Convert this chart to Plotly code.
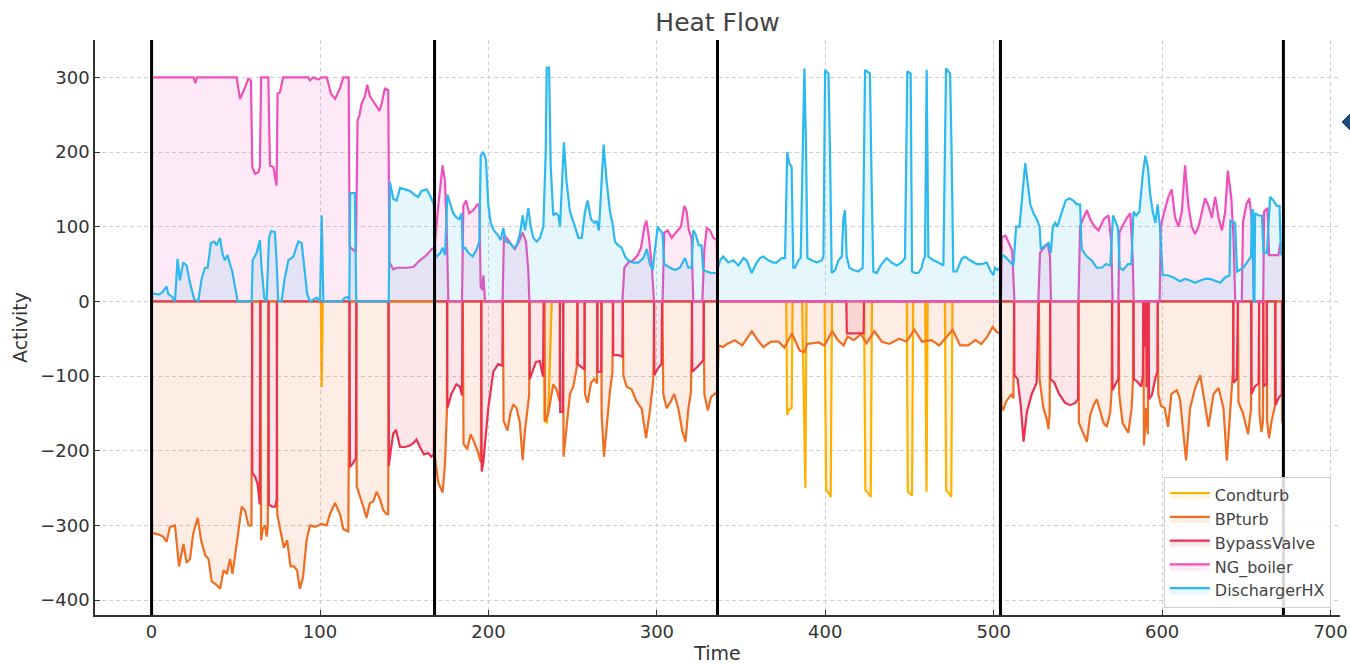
import plotly.graph_objects as go

# ---------------- data (time [h], activity) ----------------
WEEK_BOUNDS = [0, 168, 336, 504, 672]
X_TICKS = [0, 100, 200, 300, 400, 500, 600, 700]
Y_TICKS = [-400, -300, -200, -100, 0, 100, 200, 300]

CONDTURB = [(0, 0), (100.5, 0), (101, -115), (101.6, 0), (232.9, 0), (233.2, -160), (234.8, -162),
            (235.8, -130), (236.5, -80), (237.2, -20), (237.6, 0), (376.8, 0), (377.4, -152),
            (378.5, -145), (380, -143), (380.6, 0), (386.2, 0), (388.2, -250), (388.8, 0),
            (399.6, 0), (400.5, -253), (402.5, -258), (403.2, -262), (404, 0), (423, 0),
            (423.8, -253), (426, -258), (427, -262), (427.7, 0), (448.4, 0), (449, -255),
            (450.7, -258), (451.5, -260), (452.2, 0), (459.3, 0), (460.1, -255), (460.8, 0),
            (471, 0), (471.8, -253), (473.8, -258), (474.8, -262), (475.5, 0), (672, 0)]

BPTURB = [(0, -310), (3.9, -312), (6.9, -315), (8.9, -322), (10.9, -302), (13.9, -300), (16.3, -355),
          (18.9, -325), (20.8, -350), (22.8, -345), (24.8, -310), (27.4, -290), (29.4, -320),
          (31.8, -340), (33.8, -345), (35.7, -375), (38.7, -380), (40.7, -385), (42.7, -360),
          (44.7, -365), (46.6, -345), (48, -365), (49.6, -340), (51.6, -310), (53.5, -275),
          (55.5, -280), (57.5, -300), (59.3, -300), (59.8, 0), (64.6, 0), (65, -320), (66, -305),
          (67.5, -300), (68.3, -315), (69, -302), (69.5, 0), (74.3, 0), (74.6, -285), (76.6, -310),
          (78.5, -330), (80.5, -320), (82.5, -355), (84.5, -355), (86.4, -360), (88, -385),
          (89.9, -370), (92, -320), (94, -300), (97, -302), (98.9, -300), (100.9, -298),
          (103.9, -300), (105.9, -285), (108.9, -270), (111.9, -285), (113.8, -305), (116.8, -308),
          (117.6, 0), (121.5, 0), (121.8, -248), (123.7, -260), (125.7, -275), (127.6, -290),
          (129.6, -270), (131.6, -268), (133.6, -255), (135.6, -265), (137.6, -280), (139.6, -285),
          (140.5, -285), (140.8, 0), (167.9, 0), (168.2, -208), (170.2, -243), (172.8, -256),
          (174.2, -218), (175.3, -150), (175.6, 0), (184.8, 0), (185.2, -191), (187.4, -198),
          (189.4, -178), (191.4, -188), (194, -203), (195.5, -216), (195.8, 0), (208.6, 0),
          (209, -160), (211.3, -173), (213, -150), (214.8, -138), (216.7, -143), (218.7, -163),
          (220.3, -213), (221.7, -173), (223.7, -134), (224.2, -125), (224.4, 0), (233.3, 0),
          (233.6, -161), (235.5, -150), (238.5, -111), (240.4, -118), (242.3, -134), (242.5, 0),
          (244.3, 0), (244.6, -208), (246.4, -168), (248.4, -124), (250.4, -114), (252.4, -89),
          (252.9, 0), (257, 0), (257.3, -124), (258.9, -136), (260.9, -109), (262.9, -104),
          (264.5, -110), (264.8, 0), (267, 0), (267.2, -150), (268.6, -208), (270.2, -165),
          (272.2, -119), (273.6, -95), (274, 0), (279.8, 0), (280.1, -99), (282, -114), (285, -118),
          (288, -134), (291, -144), (293.6, -183), (296, -144), (297.9, -104), (298.4, 0),
          (303.3, 0), (303.8, -124), (305.8, -143), (307.8, -136), (310.3, -124), (312.7, -143),
          (315, -173), (317, -188), (318.7, -144), (320.3, -120), (320.9, 0), (327.8, 0),
          (328.2, -124), (330.2, -146), (332.2, -128), (334.6, -124), (336, -121), (336.6, -59),
          (339.4, -61), (341.7, -57), (346.2, -52), (350.7, -59), (356.4, -40), (359.8, -52),
          (363.2, -61), (367.8, -54), (372.3, -54), (375.7, -62), (380.2, -43), (384.8, -66),
          (387.5, -68), (389.3, -57), (396.1, -55), (399.5, -59), (404.1, -40), (407.5, -52),
          (410.9, -59), (413.2, -47), (417, -52), (421.1, -44), (424.5, -56), (429.1, -40),
          (433.6, -54), (438.1, -57), (443.8, -50), (448.3, -54), (452.9, -38), (457.4, -54),
          (463.1, -52), (467.6, -59), (475.6, -38), (480.1, -59), (484.7, -59), (489.2, -52),
          (492.6, -57), (496, -48), (499.4, -34), (501.7, -41), (503.8, -43), (504.6, -140),
          (505.5, -146), (507.4, -134), (510.7, -124), (511.7, -130), (512.1, 0), (526.8, 0),
          (527.2, -104), (529.5, -143), (531.5, -158), (532.5, -171), (533.2, -150), (533.5, 0),
          (550.2, 0), (550.6, -163), (552.6, -173), (555.3, -188), (557.3, -152), (559.3, -139),
          (561.2, -131), (563.2, -148), (565.2, -163), (567.2, -168), (569.2, -148), (570, -120),
          (570.3, 0), (574.2, 0), (574.5, -124), (576.5, -163), (579.9, -176), (581.9, -143),
          (582.7, -104), (583, 0), (588.8, 0), (589.2, -193), (590.5, -143), (591.5, -178),
          (592, 0), (597.4, 0), (597.7, -124), (599.3, -140), (601.5, -143), (603.5, -168),
          (605.5, -124), (608.7, -119), (610.6, -131), (614.2, -213), (616.6, -143), (619.6, -116),
          (622.6, -99), (625.5, -139), (627.5, -168), (630.5, -124), (633.5, -116), (636.4, -143),
          (638.4, -213), (640.4, -148), (642, -94), (642.3, 0), (645, 0), (645.3, -135),
          (648, -150), (651, -178), (652.8, -143), (653, 0), (657.5, 0), (657.8, -150),
          (659, -175), (659.9, -160), (660.1, 0), (662.1, 0), (662.3, -160), (663.5, -183),
          (665, -160), (667, -140), (667.2, 0), (671.1, 0), (671.3, -163), (672, -160)]

BYPASSVALVE = [(0, 0), (59.6, 0), (59.8, -230), (61.5, -235), (63, -245), (64.2, -272), (64.6, 0),
               (69.4, 0), (69.6, -272), (71.5, -275), (73.5, -275), (74.3, -265), (74.5, 0),
               (117.5, 0), (117.8, -222), (119.5, -217), (121.3, -210), (121.6, 0), (140.6, 0),
               (140.9, -220), (142, -200), (143.5, -177), (145.1, -172), (147.5, -195),
               (150.4, -195), (153.4, -193), (155.4, -190), (157.3, -185), (159.3, -195),
               (161.7, -205), (164.2, -203), (166.1, -208), (167.6, -205), (167.9, 0),
               (175.4, 0), (175.6, -143), (178, -124), (181, -111), (183, -114), (184.3, -126),
               (184.6, 0), (195.7, 0), (196, -228), (197, -215), (199.9, -143), (202.9, -94),
               (205.8, -84), (207.8, -86), (208.3, -86), (208.5, 0), (224.3, 0), (224.5, -104),
               (226.2, -92), (228.2, -81), (230.5, -80), (232.4, -101), (232.8, 0), (242.4, 0),
               (242.6, -148), (244.2, -148), (244.5, 0), (252.8, 0), (253, -84), (255, -88),
               (257, -91), (257.2, 0), (264.6, 0), (264.8, -94), (267, -94), (267.2, 0),
               (273.9, 0), (274.1, -72), (277, -72), (279.5, -74), (279.8, 0), (298.3, 0),
               (298.5, -99), (300.5, -90), (302.8, -84), (303.1, 0), (320.8, 0), (321, -94),
               (324, -88), (327.6, -79), (327.9, 0), (412.5, 0), (412.8, -43), (422.7, -43),
               (423, 0), (512.1, 0), (512.3, -99), (514.2, -104), (516.2, -143), (517.7, -188),
               (519.7, -148), (522.6, -124), (525.5, -109), (526.6, 0), (533.5, 0),
               (533.7, -104), (536, -109), (538.8, -124), (542.4, -136), (545.4, -139),
               (548.4, -136), (550.1, -131), (550.4, 0), (570.3, 0), (570.5, -119),
               (572.5, -110), (574, -104), (574.3, 0), (583, 0), (583.2, -104), (585.5, -108),
               (587.5, -114), (588.6, -100), (588.8, 0), (589.0, -60), (589.5, -60), (589.7, 0),
               (590.5, 0), (590.7, -115), (591.2, 0), (592, 0), (592.2, -131), (594, -125),
               (595.8, -104), (597.2, -94), (597.4, 0), (642.2, 0), (642.4, -109), (644.3, -104),
               (645, 0), (652.9, 0), (653.1, -124), (655, -114), (657.3, -110), (657.6, 0),
               (660, 0), (660.2, -114), (662, -110), (662.2, 0), (667.2, 0), (667.4, -139),
               (669, -130), (671, -124), (671.3, 0), (672, 0)]

NG_BOILER = [(0, 300), (25, 300), (26, 292), (27, 300), (50.5, 300), (52.5, 271), (55.4, 286),
             (57.4, 298), (59, 296), (59.8, 180), (61.4, 171), (63.4, 173), (64.3, 180), (65, 300),
             (69.3, 300), (70.3, 182), (72.3, 180), (73.2, 166), (74.2, 155), (74.8, 278),
             (76.2, 280), (78.1, 300), (93, 300), (94, 296), (96, 300), (99, 297), (101, 300),
             (104, 300), (106.5, 278), (108.9, 271), (111.8, 285), (113.8, 300), (117, 300),
             (117.6, 73), (121.3, 66), (122.3, 243), (123.3, 248), (124.7, 265), (126.7, 275),
             (128, 290), (129.6, 275), (131.6, 268), (133.6, 260), (135.3, 255), (136.6, 265),
             (138.5, 285), (140.5, 283), (141.2, 52), (143.5, 43), (145.5, 45), (151.4, 45),
             (155.4, 46), (159.3, 55), (163.3, 62), (166.3, 70), (168, 72), (170.2, 128),
             (172.8, 182), (174.2, 160), (175.2, 100), (176.2, 0), (184.3, 0), (185.1, 128),
             (186.7, 135), (188.6, 118), (191, 122), (193.6, 130), (194.6, 128), (195.4, 20),
             (196.4, 15), (197, 35), (198, 0), (208.4, 0), (209.2, 88), (210.8, 85), (213.2, 78),
             (215.7, 70), (217.7, 78), (220.3, 92), (222.3, 80), (223.7, 40), (224.3, 0),
             (279.5, 0), (280.7, 45), (283, 52), (286, 55), (288.6, 62), (290.6, 72), (292.6, 100),
             (293.8, 108), (295.3, 85), (296.9, 50), (298.3, 0), (303.4, 0), (304.4, 92),
             (306.4, 95), (308.8, 85), (311.2, 92), (314.3, 100), (316.3, 128), (317.7, 120),
             (319, 95), (320.6, 85), (321.6, 0), (327, 0), (328.2, 70), (329.6, 98), (331.6, 95),
             (333.5, 85), (335.5, 82), (336.2, 0), (504.3, 0), (504.8, 86), (507, 88),
             (509.7, 75), (511, 68), (512.3, 0), (526.5, 0), (527.5, 65), (530, 72), (532, 78),
             (533.4, 60), (534, 0), (550.3, 0), (551.3, 100), (553.3, 112), (555.3, 122),
             (557.3, 110), (559.9, 100), (562.3, 95), (565.3, 110), (568.2, 115), (569.8, 80),
             (570.6, 0), (574, 0), (574.6, 92), (576.2, 100), (579.1, 112), (581.1, 118),
             (582.5, 60), (583.1, 0), (598.5, 0), (599.2, 100), (600.7, 115), (603.7, 140),
             (605.7, 150), (607.7, 112), (609.7, 100), (611.7, 120), (613.6, 182), (615.6, 128),
             (617.6, 100), (619.6, 90), (621.6, 100), (623.5, 118), (625.5, 138), (627.5, 128),
             (629.5, 112), (631.5, 140), (633.5, 112), (635.5, 95), (637.4, 120), (639, 175),
             (641, 140), (642.4, 85), (643.4, 0), (647.3, 0), (648, 106), (650, 130),
             (651.8, 138), (653.2, 110), (654.6, 0), (660, 0), (660.5, 120), (662.5, 125),
             (663.5, 62), (669, 62), (670, 76), (672, 76)]

DISCHARGER_HX = [(0, 11), (4, 9), (6.3, 12), (8.9, 20), (9.9, 10), (12.3, 6), (13.9, 0), (15.4, 57),
                 (16.8, 28), (18.8, 52), (20.8, 48), (22.8, 25), (25.3, 3), (27.7, 0), (29.7, 30),
                 (31.7, 45), (33.3, 45), (35.2, 78), (37.2, 80), (38.6, 75), (40.6, 85), (42.2, 63),
                 (43.5, 55), (45.1, 62), (46.5, 50), (47.9, 40), (49.5, 20), (51.1, 0), (59.4, 0),
                 (60, 55), (62.4, 65), (64.3, 82), (65.3, 45), (66.9, 5), (68.3, 0), (69.7, 85),
                 (70.9, 94), (73.2, 93), (74.2, 55), (75.2, 0), (77.2, 0), (78.8, 28), (81.2, 55),
                 (84.1, 60), (87.1, 80), (89.1, 78), (90.7, 45), (92.4, 10), (94, 0), (98, 5),
                 (100, 0), (101, 115), (102, 0), (112.8, 0), (114.8, 5), (116.8, 6), (117.4, 0),
                 (117.9, 145), (120.7, 145), (121.5, 0), (140.8, 0), (141.5, 160), (143.5, 137),
                 (145.5, 135), (147.5, 152), (150.4, 150), (153.4, 148), (156.4, 142),
                 (158.3, 140), (160.3, 148), (163.3, 150), (165.2, 142), (167.6, 130), (168.5, 58),
                 (171.5, 65), (172.8, 72), (174.2, 62), (175.6, 143), (177.2, 130), (179.1, 118),
                 (181.1, 112), (182.7, 110), (184.1, 118), (184.7, 70), (186.1, 72), (188.1, 65),
                 (190.7, 60), (193.1, 70), (194.6, 80), (195.4, 195), (197, 200), (198.5, 190),
                 (199.9, 130), (201.3, 105), (203.3, 95), (205.8, 88), (207.2, 82), (208.8, 98),
                 (210.4, 80), (212.8, 78), (214.8, 72), (216.7, 75), (218.7, 90), (220.3, 115),
                 (221.7, 95), (223.7, 125), (225.1, 100), (226.7, 85), (228.7, 80), (230.6, 85),
                 (232.6, 100), (234, 200), (234.6, 313), (236, 313), (237, 180), (238.5, 115),
                 (240.1, 118), (241.5, 115), (242.5, 100), (244.8, 213), (246.4, 160),
                 (248.4, 120), (251.4, 100), (253.4, 85), (255.4, 85), (257.3, 120), (258.9, 135),
                 (260.9, 110), (262.9, 105), (264.2, 108), (265.6, 95), (267.2, 160), (268.4, 210),
                 (270.2, 160), (272.2, 120), (273.6, 105), (275.1, 80), (277.1, 75), (279.1, 72),
                 (281.1, 60), (283, 55), (286, 52), (289, 52), (292, 58), (294, 70), (295.9, 50),
                 (297.5, 42), (298.9, 70), (300.5, 100), (301.9, 95), (303.3, 92), (304.4, 50),
                 (307.8, 45), (310.8, 42), (313.7, 45), (316.7, 58), (318.7, 45), (320.6, 45),
                 (321.6, 95), (323, 90), (324.9, 75), (326.5, 75), (327.5, 42), (329.5, 40),
                 (332.5, 38), (335.5, 38), (337.5, 55), (339.4, 60), (342.4, 52), (345.4, 55),
                 (348.4, 48), (351.4, 58), (353.3, 55), (356.3, 38), (359.3, 52), (361.2, 58),
                 (363.2, 60), (366.2, 55), (369.2, 52), (371.1, 52), (374.1, 58), (376.1, 58),
                 (377.4, 200), (378.6, 185), (380, 180), (381, 45), (382, 45), (384, 55),
                 (385.4, 58), (386.6, 200), (387.6, 312), (388.6, 200), (389.4, 58), (392, 55),
                 (395, 52), (397.9, 55), (398.9, 60), (399.9, 310), (401.9, 305), (402.8, 200),
                 (403.8, 38), (405.8, 42), (407.8, 55), (409.8, 60), (410.7, 110), (411.7, 122),
                 (412.7, 60), (414.3, 45), (416.7, 42), (419.6, 40), (422.2, 45), (423.6, 310),
                 (426.5, 305), (427.5, 160), (428.5, 40), (430.5, 38), (433.4, 50), (436.4, 58),
                 (439.4, 52), (442.4, 48), (445.3, 52), (447.3, 58), (448.7, 308), (450.7, 305),
                 (451.5, 40), (453.3, 38), (455.3, 38), (457.2, 45), (458.2, 55), (459.2, 60),
                 (460.2, 310), (461.2, 60), (464.2, 55), (467.2, 52), (470.1, 48), (471.7, 312),
                 (474.1, 305), (475, 200), (476, 40), (478, 40), (481, 57), (482.9, 60),
                 (485.9, 55), (489.9, 50), (492.9, 50), (495.9, 52), (497.8, 42), (499.8, 35),
                 (500.8, 45), (502.4, 42), (503.8, 45), (505.2, 62), (506.8, 60), (508.8, 55),
                 (511.7, 48), (513.3, 100), (515.3, 100), (517.3, 150), (518.7, 185), (520.1, 160),
                 (521.7, 130), (523.6, 118), (525.6, 110), (527.2, 100), (528, 70), (530.6, 75),
                 (532.6, 78), (533.9, 65), (535.1, 100), (536.5, 105), (537.8, 100), (539.8, 115),
                 (542.7, 135), (544.9, 138), (547.3, 135), (549.3, 130), (551.3, 130), (552.2, 70),
                 (555.3, 60), (558.2, 55), (561.2, 45), (564.1, 45), (566.7, 50), (569.2, 48),
                 (570.8, 115), (571.8, 110), (573.8, 98), (574.8, 45), (576.8, 42), (579.7, 50),
                 (581.7, 50), (583, 120), (584.6, 115), (586.5, 120), (588.5, 170), (590, 195),
                 (591.5, 180), (592.8, 145), (594.4, 120), (596, 105), (597.3, 130), (598.7, 100),
                 (600.3, 35), (603.2, 35), (606.7, 32), (610.6, 27), (613.6, 30), (616.6, 28),
                 (619.6, 25), (622.6, 28), (625.5, 30), (628.5, 30), (631.5, 28), (634.5, 25),
                 (637.4, 32), (640, 35), (640.5, 108), (643.3, 105), (644.5, 40), (648.2, 45),
                 (651.2, 55), (652.8, 60), (653.2, 122), (654, 122), (654.3, 0), (654.8, 0),
                 (655.2, 118), (657.2, 115), (659.2, 115), (660.2, 66), (662.2, 65), (664.1, 140),
                 (666.1, 135), (668.1, 128), (669.7, 128), (670.5, 64), (672, 60)]

SERIES = [
    ("Condturb", CONDTURB, (255, 176, 0)),
    ("BPturb", BPTURB, (239, 110, 35)),
    ("BypassValve", BYPASSVALVE, (234, 50, 80)),
    ("NG_boiler", NG_BOILER, (239, 80, 185)),
    ("DischargerHX", DISCHARGER_HX, (45, 185, 240)),
]

# ---------------- figure ----------------
fig = go.Figure()
for name, pts, (r, g, b) in SERIES:
    fig.add_trace(go.Scatter(
        x=[p[0] for p in pts], y=[p[1] for p in pts],
        mode="lines", name=name, legendgroup=name,
        line=dict(color=f"rgb({r},{g},{b})", width=2.2),
        fill="tozeroy", fillcolor=f"rgba({r},{g},{b},0.12)",
    ))

for wb in WEEK_BOUNDS:
    fig.add_shape(type="line", xref="x", yref="paper", x0=wb, x1=wb, y0=0, y1=1,
                  line=dict(color="black", width=3), layer="above")


def px2paper(px, py):
    return (px - 95) / 1245, (615 - py) / 575


# partially visible navy marker at the right edge of the reference image
marker_pts = [px2paper(*p) for p in [(1342, 122), (1353, 111), (1364, 122), (1353, 133)]]
fig.add_shape(type="path", xref="paper", yref="paper",
              path="M " + " L ".join(f"{x:.5f},{y:.5f}" for x, y in marker_pts) + " Z",
              fillcolor="#1d4a7a", line=dict(color="#1d4a7a", width=1), layer="above")

font_family = "DejaVu Sans"
fig.update_layout(
    width=1350, height=664,
    margin=dict(l=95, r=10, t=40, b=49),
    paper_bgcolor="white", plot_bgcolor="white",
    font=dict(family=font_family, color="#333333"),
    title=dict(text="Heat Flow", x=0.5, xref="paper", xanchor="center",
               y=1 - 22 / 664, yref="container", yanchor="middle",
               font=dict(size=25, color="#444444", family=font_family)),
    showlegend=True,
    legend=dict(x=0.8585, y=0.012, xanchor="left", yanchor="bottom",
                bgcolor="rgba(255,255,255,0.85)", bordercolor="#d0d0d0", borderwidth=1,
                font=dict(size=16, color="#444444", family=font_family),
                itemwidth=40, tracegroupgap=4, traceorder="normal"),
)
fig.update_xaxes(
    range=[-33.6, 705.6], tickmode="array", tickvals=X_TICKS,
    showgrid=True, gridcolor="#d0d0d0", gridwidth=1, griddash="4px,3px", zeroline=False,
    showline=True, linecolor="#333333", linewidth=1.5, mirror=False,
    ticks="inside", ticklen=5, tickcolor="#333333",
    tickfont=dict(size=18, color="#333333"),
    title=dict(text="Time", font=dict(size=19, color="#333333"), standoff=6),
    automargin=False,
)
fig.update_yaxes(
    range=[-420, 350], tickmode="array", tickvals=Y_TICKS,
    showgrid=True, gridcolor="#d0d0d0", gridwidth=1, griddash="4px,3px", zeroline=False,
    showline=True, linecolor="#333333", linewidth=1.5, mirror=False,
    ticks="inside", ticklen=5, tickcolor="#333333",
    tickfont=dict(size=18, color="#333333"),
    title=dict(text="Activity", font=dict(size=19, color="#333333"), standoff=8),
    automargin=False,
)

fig.write_html(
    "out.html",
    config={"displayModeBar": False},
    post_script="document.body.style.margin='0';document.body.style.overflow='hidden';",
)
